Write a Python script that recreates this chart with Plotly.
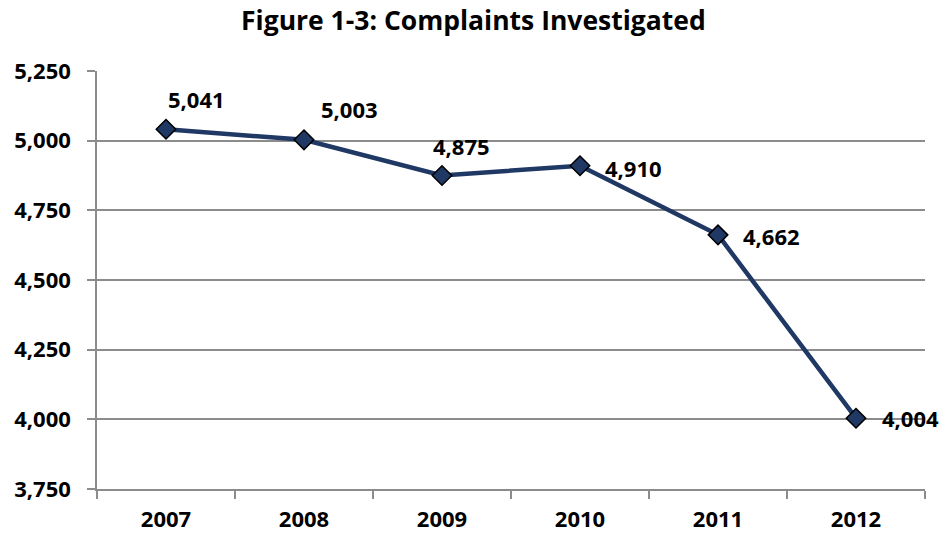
import plotly.graph_objects as go

years = ["2007", "2008", "2009", "2010", "2011", "2012"]
complaints = [5041, 5003, 4875, 4910, 4662, 4004]
label_text = ["5,041", "5,003", "4,875", "4,910", "4,662", "4,004"]
label_dx = [0, 15, -11, 23, 23, 24]
label_dy = [30, 31, 30, -2, -1, 0]

y_ticks = [3750, 4000, 4250, 4500, 4750, 5000, 5250]

FONT = "Open Sans"
line_color = "#1F3864"
grid_color = "#8C8C8C"

xpos = list(range(len(years)))
boundaries = [i - 0.5 for i in range(len(years) + 1)]

fig = go.Figure()
fig.add_trace(go.Scatter(
    x=xpos, y=complaints, mode="lines+markers",
    line=dict(color=line_color, width=4.5),
    marker=dict(symbol="diamond", size=15, color=line_color,
                line=dict(color="#000000", width=1.5)),
    hoverinfo="skip", showlegend=False,
))

for xi, v, t, dx, dy in zip(xpos, complaints, label_text, label_dx, label_dy):
    fig.add_annotation(x=xi, y=v, text=t, showarrow=False,
                       xanchor="left", yanchor="middle",
                       xshift=dx, yshift=dy,
                       font=dict(family=FONT, size=22, color="#000000", weight="bold"))

fig.update_layout(
    width=943, height=535,
    margin=dict(l=97, r=18, t=71, b=46),
    paper_bgcolor="white", plot_bgcolor="white",
    title=dict(text="Figure 1-3: Complaints Investigated",
               x=0.502, xanchor="center", y=0.961, yanchor="middle",
               font=dict(family=FONT, size=26.5, color="#000000", weight="bold")),
    font=dict(family=FONT, color="#000000"),
)

fig.update_xaxes(
    range=[-0.5, 5.5], tickvals=xpos, ticktext=years,
    showline=True, linecolor=grid_color, linewidth=1.5,
    ticks="", showgrid=False, zeroline=False, automargin=False,
    minor=dict(tickvals=boundaries, ticks="outside", ticklen=8,
               tickwidth=1.5, tickcolor=grid_color, showgrid=False),
    tickfont=dict(family=FONT, size=22, color="#000000", weight="bold"),
    ticklabelstandoff=10,
)
fig.update_yaxes(
    range=[3750, 5250], tickvals=y_ticks, tickformat=",",
    showline=True, linecolor=grid_color, linewidth=1.5,
    ticks="outside", ticklen=8, tickwidth=1.5, tickcolor=grid_color,
    showgrid=True, gridcolor=grid_color, gridwidth=1.5,
    zeroline=False, automargin=False,
    tickfont=dict(family=FONT, size=22, color="#000000", weight="bold"),
    ticklabelstandoff=12,
)

fig.write_html("out.html", config={"displayModeBar": False},
               post_script="document.body.style.margin='0';")
